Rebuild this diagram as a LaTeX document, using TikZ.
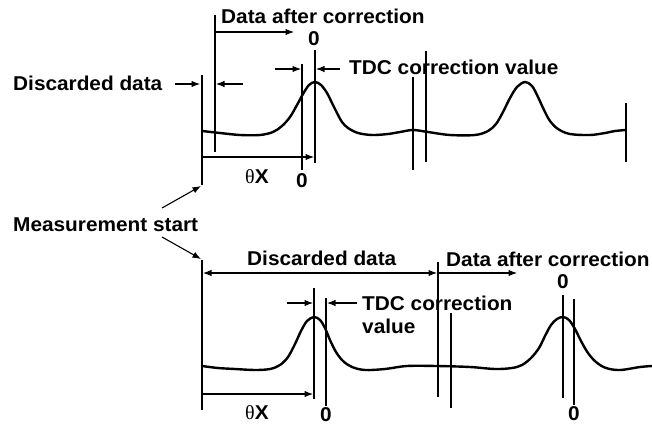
\documentclass[tikz,border=0pt]{standalone}
\usepackage{fontspec}
\setmainfont{Liberation Sans}[FakeStretch=1.04]
\newfontfamily\thetafont{Liberation Serif}
\usetikzlibrary{arrows.meta}
\begin{document}
\begin{tikzpicture}[x=1pt,y=-1pt,
  lbl/.style={inner sep=0pt, font=\fontsize{20}{23}\selectfont\bfseries},
  vline/.style={line width=1.1pt},
  arr/.style={line width=1.1pt, -{Latex[length=8.5pt,width=6.5pt]}},
  darr/.style={line width=1.1pt, {Latex[length=8.5pt,width=6.5pt]}-{Latex[length=8.5pt,width=6.5pt]}},
  wave/.style={line width=2.4pt, line join=round, line cap=round}]
\useasboundingbox (0,0) rectangle (652,425);

% ---------- top panel ----------
\node[lbl, anchor=base west] (tdac) at (221,24) {Data after correction};
\node[lbl, anchor=base] (tz1) at (314,46) {0};
\node[lbl, anchor=base west] (ttdc) at (349,75) {TDC correction value};
\node[lbl, anchor=base west] (tdis) at (13,91) {Discarded data};
\node[lbl, anchor=base west] (tth) at (245,183) {{\thetafont\mdseries θ}X};
\node[lbl, anchor=base] (tz2) at (302,187) {0};

\coordinate (ta1) at (202,75);  \coordinate (ta2) at (202,185);
\coordinate (tb1) at (215,15);  \coordinate (tb2) at (215,152);
\coordinate (tc1) at (302,64);  \coordinate (tc2) at (302,170);
\coordinate (td1) at (315,50);  \coordinate (td2) at (315,163);
\coordinate (te1) at (413,77);  \coordinate (te2) at (413,170);
\coordinate (tf1) at (426,51);  \coordinate (tf2) at (426,162);
\coordinate (tg1) at (626,103); \coordinate (tg2) at (626,162);
\foreach \a in {ta,tb,tc,td,te,tf,tg} \draw[vline] (\a1) -- (\a2);

\coordinate (tr1s) at (215,32);  \coordinate (tr1e) at (294,32);
\coordinate (tr2s) at (275,69);  \coordinate (tr2e) at (301,69);
\coordinate (tr3s) at (340,69);  \coordinate (tr3e) at (316,69);
\coordinate (tr4s) at (175,84);  \coordinate (tr4e) at (200,84);
\coordinate (tr5s) at (243,84);  \coordinate (tr5e) at (216,84);
\coordinate (tr6s) at (202,157); \coordinate (tr6e) at (314,157);
\foreach \a in {tr1,tr2,tr3,tr4,tr5,tr6} \draw[arr] (\a s) -- (\a e);

\draw[wave] plot[smooth, tension=0.55] coordinates {
 (202,131) (220,133) (240,135) (260,135) (273,132) (282,126) (290,117) (297,105) (303,94)
 (309,85) (315,82) (321,85) (327,93) (332,103) (337,113) (342,122) (348,128) (358,133)
 (372,135) (388,134) (400,132) (413,130) (428,132) (450,135) (475,135) (488,131)
 (496,124) (503,112) (510,98) (517,87) (525,82) (532,86) (538,97) (544,110) (550,121)
 (558,129) (570,134) (590,135) (605,133) (615,131) (626,130)};

% ---------- bottom panel ----------
\node[lbl, anchor=base west] (ms) at (13,231) {Measurement start};
\node[lbl, anchor=base west] (bdis) at (247,265) {Discarded data};
\node[lbl, anchor=base west] (bdac) at (446,266) {Data after correction};
\node[lbl, anchor=base] (bz3) at (563,288) {0};
\node[lbl, anchor=base west] (btdc) at (362,310) {TDC correction};
\node[lbl, anchor=base west] (bval) at (362,333) {value};
\node[lbl, anchor=base west] (bth) at (245,419) {{\thetafont\mdseries θ}X};
\node[lbl, anchor=base] (bz1) at (326,421) {0};
\node[lbl, anchor=base] (bz2) at (574,420) {0};

\coordinate (msa1) at (162,208); \coordinate (msa2) at (201,186);
\coordinate (msb1) at (162,237); \coordinate (msb2) at (201,259);
\draw[arr] (msa1) -- (msa2);
\draw[arr] (msb1) -- (msb2);

\coordinate (ba1) at (202,260); \coordinate (ba2) at (202,410);
\coordinate (bb1) at (314,288); \coordinate (bb2) at (314,399);
\coordinate (bc1) at (326,298); \coordinate (bc2) at (326,406);
\coordinate (bd1) at (438,262); \coordinate (bd2) at (438,397);
\coordinate (be1) at (451,313); \coordinate (be2) at (451,408);
\coordinate (bf1) at (563,295); \coordinate (bf2) at (563,398);
\coordinate (bg1) at (574,299); \coordinate (bg2) at (574,405);
\foreach \a in {ba,bb,bc,bd,be,bf,bg} \draw[vline] (\a1) -- (\a2);

\coordinate (bdisl) at (203,273); \coordinate (bdisr) at (437,273);
\draw[darr] (bdisl) -- (bdisr);
\coordinate (br1s) at (438,273); \coordinate (br1e) at (517,273);
\coordinate (br2s) at (287,303); \coordinate (br2e) at (313,303);
\coordinate (br3s) at (357,303); \coordinate (br3e) at (327,303);
\coordinate (br4s) at (202,394); \coordinate (br4e) at (313,394);
\foreach \a in {br1,br2,br3,br4} \draw[arr] (\a s) -- (\a e);

\draw[wave] plot[smooth, tension=0.55] coordinates {
 (202,366) (218,368) (235,369) (255,370) (270,369) (280,365) (288,357) (295,344) (301,331)
 (307,321) (314,317) (320,320) (325,328) (330,340) (336,352) (343,361) (352,367) (365,370)
 (385,369) (407,366) (437,366) (470,367) (495,369) (512,368) (522,365) (531,358) (539,348)
 (545,336) (551,325) (557,319) (563,317) (569,320) (575,329) (581,341) (588,353) (596,362)
 (606,368) (620,370) (640,367) (652,366)};
\end{tikzpicture}
\end{document}
